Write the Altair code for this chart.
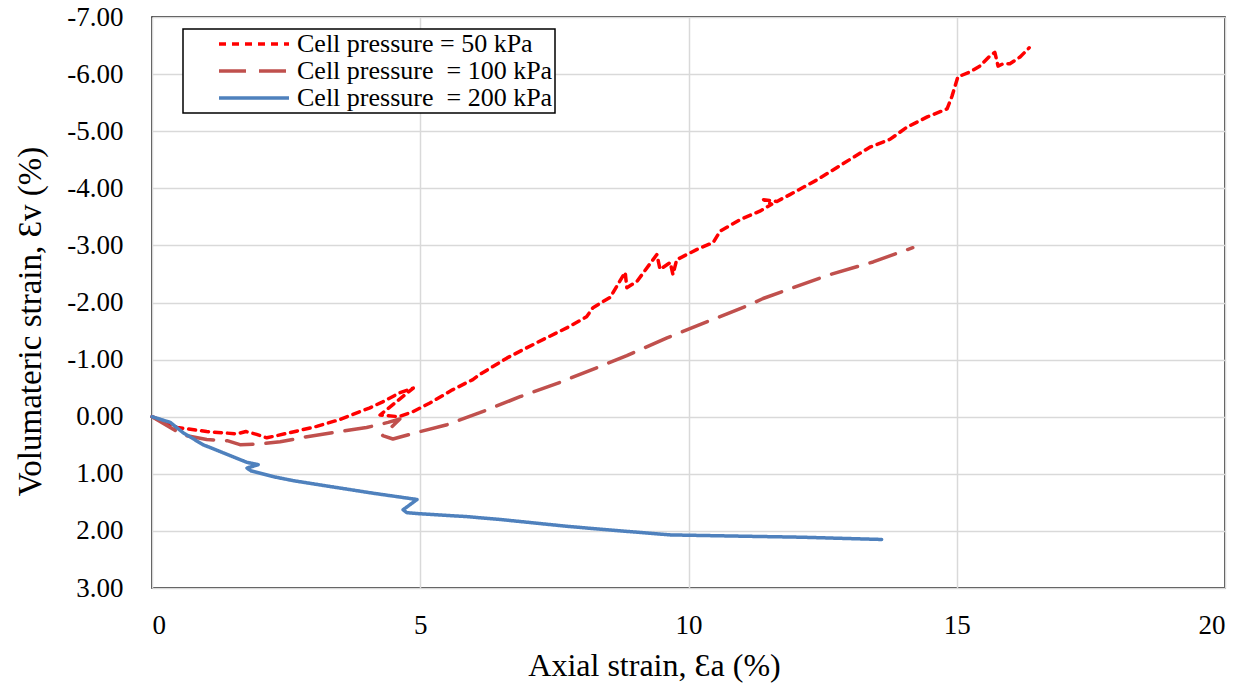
import altair as alt
import pandas as pd

# Series names (legend labels)
series_names = [
    "Cell pressure = 50 kPa",
    "Cell pressure\u00a0 = 100 kPa",
    "Cell pressure\u00a0 = 200 kPa",
]
series_colors = ["#FF0000", "#C0504D", "#4F81BD"]

# Cell pressure = 50 kPa
x50 = [0.0, 0.47, 1.02, 1.58, 1.75, 1.95, 2.14, 2.57, 3.07, 3.5, 3.88, 4.05, 4.3, 4.62, 4.87,
       4.25, 4.6, 4.87, 5.18, 5.6, 5.98, 6.11, 6.62, 7.18, 7.74, 8.1, 8.22, 8.54, 8.82, 8.85,
       9.04, 9.41, 9.47, 9.66, 9.71, 9.78, 10.16, 10.46, 10.59, 10.96, 11.33, 11.55, 11.4,
       11.65, 11.89, 12.4, 13.0, 13.38, 13.76, 14.07, 14.45, 14.82, 14.91, 15.02, 15.25,
       15.43, 15.62, 15.71, 15.77, 15.86, 15.99, 16.18, 16.35]
y50 = [0.0, 0.19, 0.26, 0.30, 0.26, 0.31, 0.37, 0.28, 0.17, 0.05, -0.09, -0.15, -0.26, -0.42,
       -0.5, -0.03, 0.0, -0.09, -0.24, -0.47, -0.65, -0.74, -1.03, -1.3, -1.56, -1.75, -1.91,
       -2.09, -2.53, -2.26, -2.37, -2.84, -2.58, -2.7, -2.49, -2.75, -2.93, -3.05, -3.25,
       -3.45, -3.6, -3.72, -3.8, -3.77, -3.89, -4.15, -4.5, -4.72, -4.86, -5.07, -5.25,
       -5.39, -5.61, -5.95, -6.04, -6.14, -6.32, -6.38, -6.14, -6.18, -6.18, -6.3, -6.46]

# Cell pressure = 100 kPa
x100 = [0.0, 0.58, 1.02, 1.4, 1.64, 1.95, 2.39, 2.89, 3.37, 4.0, 4.4, 4.62, 4.3, 4.49, 5.0,
        5.5, 6.11, 6.86, 7.6, 8.35, 8.85, 9.6, 10.34, 11.09, 11.39, 11.89, 12.64, 13.44, 14.18]
y100 = [0.0, 0.32, 0.4, 0.42, 0.49, 0.48, 0.44, 0.35, 0.28, 0.19, 0.1, 0.04, 0.33, 0.39, 0.26,
        0.14, -0.07, -0.35, -0.6, -0.88, -1.07, -1.38, -1.66, -1.94, -2.07, -2.24, -2.49,
        -2.71, -2.96]

# Cell pressure = 200 kPa
x200 = [0.0, 0.34, 0.58, 0.95, 1.4, 1.77, 1.98, 1.77, 1.85, 2.26, 2.63, 3.37, 4.12, 4.94,
        4.68, 4.75, 5.0, 5.87, 6.49, 7.74, 8.48, 9.66, 10.83, 12.08, 13.6]
y200 = [0.0, 0.1, 0.28, 0.49, 0.66, 0.8, 0.84, 0.9, 0.95, 1.05, 1.12, 1.23, 1.34, 1.45,
        1.63, 1.68, 1.7, 1.75, 1.8, 1.92, 1.98, 2.07, 2.09, 2.11, 2.15]

x_ticks = [0, 5, 10, 15, 20]
y_ticks = [-7, -6, -5, -4, -3, -2, -1, 0, 1, 2, 3]

rows = []
for name, xs, ys in zip(series_names, [x50, x100, x200], [y50, y100, y200]):
    for i, (xv, yv) in enumerate(zip(xs, ys)):
        rows.append({"series": name, "x": xv, "y": yv, "idx": i})
df = pd.DataFrame(rows)

FONT = "'Times New Roman', 'Liberation Serif', serif"

legend = alt.Legend(title=None, labelExpr="datum.label + '\u2003'")

chart = alt.Chart(df).mark_line(strokeWidth=3.5, strokeCap="round", strokeJoin="round").encode(
    x=alt.X("x:Q",
            scale=alt.Scale(domain=[0, 20], nice=False),
            axis=alt.Axis(values=x_ticks, title="Axial strain, \u0190a (%)",
                          labelPadding=45, labelBaseline="alphabetic",
                          titleFontSize=32,
                          titleX=502, titleAlign="center",
                          titleY=87, titleBaseline="alphabetic")),
    y=alt.Y("y:Q",
            scale=alt.Scale(domain=[-7, 3], reverse=True, nice=False),
            axis=alt.Axis(values=y_ticks, title="Volumateric strain, \u0190v (%)",
                          labelExpr="(datum.value < 0 ? '-' : '') + format(abs(datum.value), '.2f')",
                          labelPadding=29,
                          titleFontSize=33,
                          titleX=-122, titleY=304, titleBaseline="middle", titleAlign="center")),
    color=alt.Color("series:N",
                    scale=alt.Scale(domain=series_names, range=series_colors),
                    legend=legend),
    strokeDash=alt.StrokeDash("series:N",
                              scale=alt.Scale(domain=series_names,
                                              range=[[7, 6], [27, 13], [1, 0]]),
                              legend=legend),
    order=alt.Order("idx:Q"),
).properties(
    width=1073,
    height=571,
    autosize=alt.AutoSizeParams(type="none"),
    padding={"left": 152, "top": 17, "right": 33, "bottom": 97},
).configure(
    font=FONT,
).configure_view(
    stroke="black",
    strokeWidth=1.5,
).configure_axis(
    domain=False,
    ticks=False,
    grid=True,
    gridColor="#D9D9D9",
    gridWidth=1.5,
    labelFont=FONT,
    labelFontSize=27,
    labelColor="black",
    titleFont=FONT,
    titleFontWeight="normal",
    titleColor="black",
).configure_legend(
    orient="none",
    legendX=31,
    legendY=12,
    fillColor="white",
    strokeColor="black",
    strokeWidth=1.5,
    padding=2,
    rowPadding=1,
    clipHeight=26,
    symbolType="stroke",
    symbolSize=4900,
    symbolStrokeWidth=3.5,
    symbolOffset=32,
    labelFont=FONT,
    labelFontSize=26,
    labelColor="black",
    labelOffset=6,
    labelLimit=500,
)

chart.save("out.html", embed_options={"renderer": "svg", "actions": False})
